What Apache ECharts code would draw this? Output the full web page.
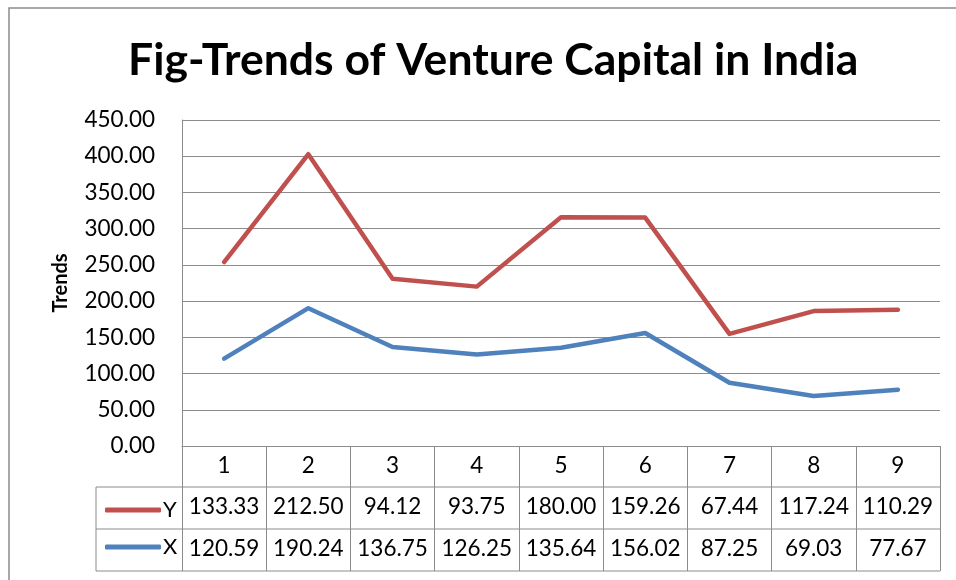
<!DOCTYPE html>
<html>
<head>
<meta charset="utf-8">
<title>Fig-Trends of Venture Capital in India</title>
<script src="https://cdn.jsdelivr.net/npm/echarts@6/dist/echarts.min.js"></script>
<style>
  html, body { margin: 0; padding: 0; background: #fff; }
  #chart { width: 956px; height: 580px; }
</style>
</head>
<body>
<div id="chart"></div>
<script>
// data
const categories = ['1', '2', '3', '4', '5', '6', '7', '8', '9'];
const yValues = [133.33, 212.50, 94.12, 93.75, 180.00, 159.26, 67.44, 117.24, 110.29];
const xValues = [120.59, 190.24, 136.75, 126.25, 135.64, 156.02, 87.25, 69.03, 77.67];
const yTicks = { min: 0, max: 450, step: 50 };

const font = 'Lato, "Open Sans", sans-serif';
const gray = '#8c8c8c';
const red = '#C0504D';
const blue = '#4F81BD';

const chart = echarts.init(document.getElementById('chart'));

// table rows under the plot (one category axis per row)
const tableAxis = (labels, offset) => ({
  type: 'category',
  gridIndex: 0,
  position: 'bottom',
  offset: offset,
  data: labels,
  boundaryGap: true,
  axisLine: { show: false },
  axisTick: { show: false },
  axisLabel: {
    interval: 0, margin: 8, color: '#000', fontSize: 22.5, fontFamily: font,
    formatter: v => Number(v).toFixed(2)
  }
});

const option = {
  backgroundColor: '#fff',
  animation: false,
  title: {
    text: 'Fig-Trends of Venture Capital in India',
    left: 123,
    top: 33,
    textStyle: { fontSize: 44.5, fontWeight: 'bold', color: '#000', fontFamily: font }
  },
  legend: {
    data: ['Y', 'X'],
    orient: 'vertical',
    left: 100,
    top: 494,
    itemGap: 15,
    itemWidth: 56,
    itemHeight: 5,
    icon: 'roundRect',
    textStyle: { fontSize: 22, color: '#000', fontFamily: font, padding: [0, 0, 0, -3] }
  },
  grid: { left: 182, right: 16, top: 120, bottom: 134 },
  xAxis: [
    {
      type: 'category',
      data: categories,
      boundaryGap: true,
      axisLine: { show: true, lineStyle: { color: gray, width: 1 } },
      axisTick: { show: true, interval: 0, length: 125, lineStyle: { color: gray, width: 1 } },
      axisLabel: { interval: 0, margin: 8, color: '#000', fontSize: 22.5, fontFamily: font }
    },
    tableAxis(yValues, 41),
    tableAxis(xValues, 83)
  ],
  yAxis: {
    type: 'value',
    min: yTicks.min,
    max: yTicks.max,
    interval: yTicks.step,
    name: 'Trends',
    nameLocation: 'middle',
    nameGap: 111,
    nameRotate: 90,
    nameTextStyle: { fontSize: 20, fontWeight: 'bold', color: '#000', fontFamily: font },
    axisLine: { show: true, lineStyle: { color: gray, width: 1 } },
    axisTick: { show: false },
    splitLine: { show: true, lineStyle: { color: gray, width: 1 } },
    axisLabel: {
      margin: 27, color: '#000', fontSize: 22.5, fontFamily: font,
      formatter: v => v.toFixed(2)
    }
  },
  series: [
    {
      name: 'X', type: 'line', stack: 'total', data: xValues,
      symbol: 'none', color: blue,
      lineStyle: { width: 4.5, color: blue, cap: 'round', join: 'round' }
    },
    {
      name: 'Y', type: 'line', stack: 'total', data: yValues,
      symbol: 'none', color: red,
      lineStyle: { width: 4.5, color: red, cap: 'round', join: 'round' }
    }
  ],
  graphic: [
    // outer chart border
    { type: 'rect', shape: { x: 9, y: 8, width: 1000, height: 700 }, style: { fill: 'none', stroke: gray, lineWidth: 1.5 }, silent: true },
    // table lines outside the axes
    { type: 'line', shape: { x1: 96, y1: 487, x2: 940, y2: 487 }, style: { stroke: gray, lineWidth: 1 }, silent: true },
    { type: 'line', shape: { x1: 96, y1: 529, x2: 940, y2: 529 }, style: { stroke: gray, lineWidth: 1 }, silent: true },
    { type: 'line', shape: { x1: 96, y1: 571, x2: 940, y2: 571 }, style: { stroke: gray, lineWidth: 1 }, silent: true },
    { type: 'line', shape: { x1: 96, y1: 487, x2: 96, y2: 571 }, style: { stroke: gray, lineWidth: 1 }, silent: true }
  ]
};

chart.setOption(option);
</script>
</body>
</html>
